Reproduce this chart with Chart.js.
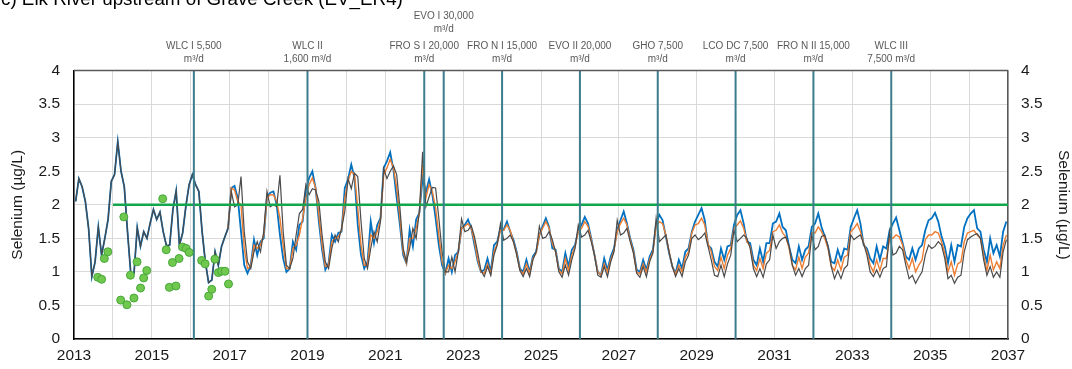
<!DOCTYPE html>
<html>
<head>
<meta charset="utf-8">
<script src="https://cdn.jsdelivr.net/npm/chart.js@4.4.1/dist/chart.umd.min.js"></script>
<style>
  html, body { margin: 0; padding: 0; background: #ffffff; overflow: hidden; }
  canvas { display: block; }
</style>
</head>
<body>
<canvas id="chart" width="1072" height="369"></canvas>
<script>
// ---- Monthly modelled selenium (µg/L), Elk River upstream of Grave Creek ----
// 2013–2016: calibration period, common to every projection
const calibration2013to2016 = [
  2.05, 2.39, 2.27, 2.05, 1.65, 0.93, 1.15, 1.67, 1.25, 1.50, 1.78, 2.35,
  2.45, 2.94, 2.50, 2.27, 1.60, 0.98, 0.98, 1.66, 1.38, 1.60, 1.50, 1.73,
  1.93, 1.78, 1.89, 1.60, 1.39, 1.40, 1.93, 2.21, 1.40, 1.58, 1.98, 2.30,
  2.45, 2.30, 2.20, 1.60, 1.15, 0.84, 0.88, 1.30, 1.10, 1.38, 1.52, 1.65
];

// 2017–2036 projections
const upperProjection = [
  2.25, 2.28, 2.10, 1.60, 1.10, 0.98, 1.10, 1.48, 1.25, 1.45, 1.50, 2.12,
  2.18, 2.20, 2.00, 1.55, 1.20, 1.00, 1.05, 1.45, 1.33, 1.70, 1.75, 2.22,
  2.40, 2.50, 2.25, 1.75, 1.33, 1.03, 1.13, 1.55, 1.45, 1.58, 1.60, 2.25,
  2.38, 2.60, 2.40, 1.70, 1.25, 1.05, 1.15, 1.75, 1.43, 1.70, 1.80, 2.55,
  2.65, 2.78, 2.52, 2.10, 1.70, 1.25, 1.13, 1.63, 1.38, 1.78, 1.88, 2.40,
  2.18, 2.38, 2.15, 1.80, 1.40, 1.10, 0.98, 1.20, 1.00, 1.25, 1.30, 1.65,
  1.70, 1.78, 1.65, 1.40, 1.15, 1.00, 1.03, 1.20, 1.00, 1.40, 1.45, 1.65,
  1.63, 1.75, 1.60, 1.48, 1.30, 1.05, 1.00, 1.18, 1.00, 1.23, 1.30, 1.55,
  1.68, 1.80, 1.67, 1.35, 1.33, 1.05, 1.00, 1.28, 1.08, 1.33, 1.40, 1.62,
  1.70, 1.82, 1.72, 1.50, 1.25, 1.00, 0.95, 1.20, 1.03, 1.23, 1.35, 1.62,
  1.77, 1.90, 1.72, 1.50, 1.33, 1.03, 1.00, 1.18, 1.03, 1.23, 1.33, 1.72,
  1.85, 1.77, 1.53, 1.28, 1.08, 0.98, 1.18, 1.05, 1.30, 1.35, 1.60, 1.75,
  1.85, 1.95, 1.77, 1.40, 1.35, 1.15, 1.08, 1.35, 1.18, 1.38, 1.40, 1.70,
  1.85, 1.92, 1.72, 1.45, 1.43, 1.18, 1.10, 1.35, 1.15, 1.43, 1.43, 1.72,
  1.75, 1.87, 1.67, 1.62, 1.38, 1.18, 1.13, 1.38, 1.18, 1.33, 1.38, 1.67,
  1.72, 1.87, 1.67, 1.53, 1.38, 1.15, 1.13, 1.33, 1.18, 1.35, 1.33, 1.67,
  1.80, 1.92, 1.72, 1.40, 1.35, 1.20, 1.13, 1.38, 1.18, 1.38, 1.35, 1.62,
  1.72, 1.81, 1.62, 1.43, 1.23, 1.18, 1.35, 1.18, 1.35, 1.40, 1.62, 1.77,
  1.80, 1.88, 1.75, 1.53, 1.38, 1.13, 1.40, 1.15, 1.40, 1.38, 1.67, 1.80,
  1.87, 1.92, 1.65, 1.60, 1.33, 1.15, 1.50, 1.28, 1.40, 1.23, 1.60, 1.75
];

const centralProjection = [
  2.25, 2.22, 2.05, 2.00, 1.35, 1.05, 1.08, 1.40, 1.35, 1.40, 1.55, 2.10,
  2.15, 2.15, 2.05, 1.80, 1.40, 1.05, 1.05, 1.35, 1.40, 1.55, 1.80, 2.10,
  2.30, 2.40, 2.25, 1.85, 1.40, 1.08, 1.10, 1.45, 1.50, 1.52, 1.62, 2.10,
  2.35, 2.50, 2.45, 1.95, 1.40, 1.10, 1.10, 1.55, 1.50, 1.60, 1.78, 2.45,
  2.55, 2.68, 2.55, 2.25, 1.80, 1.30, 1.13, 1.50, 1.50, 1.65, 1.88, 2.60,
  2.10, 2.30, 2.20, 1.95, 1.55, 1.15, 0.98, 1.10, 1.05, 1.15, 1.30, 1.65,
  1.68, 1.72, 1.65, 1.45, 1.18, 1.00, 0.98, 1.12, 0.97, 1.30, 1.42, 1.62,
  1.62, 1.70, 1.62, 1.45, 1.28, 1.03, 0.97, 1.12, 0.98, 1.20, 1.28, 1.55,
  1.65, 1.75, 1.65, 1.42, 1.30, 1.03, 0.97, 1.20, 1.02, 1.25, 1.38, 1.60,
  1.65, 1.75, 1.68, 1.48, 1.25, 1.00, 0.95, 1.12, 1.00, 1.18, 1.32, 1.60,
  1.72, 1.80, 1.70, 1.48, 1.30, 1.00, 0.97, 1.12, 1.00, 1.18, 1.30, 1.68,
  1.75, 1.72, 1.55, 1.30, 1.08, 0.97, 1.10, 1.00, 1.22, 1.30, 1.58, 1.70,
  1.72, 1.80, 1.70, 1.42, 1.30, 1.08, 1.02, 1.22, 1.05, 1.25, 1.35, 1.65,
  1.70, 1.76, 1.65, 1.45, 1.38, 1.10, 1.02, 1.20, 1.05, 1.28, 1.32, 1.60,
  1.62, 1.70, 1.58, 1.52, 1.35, 1.10, 1.03, 1.22, 1.05, 1.22, 1.28, 1.58,
  1.58, 1.67, 1.60, 1.50, 1.35, 1.08, 1.02, 1.18, 1.03, 1.22, 1.25, 1.60,
  1.65, 1.72, 1.60, 1.42, 1.30, 1.10, 1.00, 1.18, 1.02, 1.20, 1.20, 1.50,
  1.50, 1.55, 1.52, 1.40, 1.18, 1.05, 1.20, 1.00, 1.10, 1.18, 1.48, 1.55,
  1.55, 1.60, 1.58, 1.45, 1.28, 1.00, 1.15, 0.95, 1.12, 1.15, 1.45, 1.58,
  1.60, 1.62, 1.55, 1.50, 1.25, 1.02, 1.25, 1.03, 1.15, 1.05, 1.40, 1.55
];

const lowerProjection = [
  2.20, 1.97, 2.00, 2.42, 1.60, 1.15, 1.05, 1.30, 1.45, 1.30, 1.60, 2.20,
  1.97, 2.00, 1.97, 2.44, 1.60, 1.10, 1.05, 1.20, 1.55, 1.87, 1.93, 2.30,
  2.15, 2.24, 2.22, 2.05, 1.55, 1.15, 1.05, 1.35, 1.55, 1.45, 1.65, 1.90,
  2.39, 2.24, 2.47, 2.42, 1.75, 1.20, 1.05, 1.35, 1.60, 1.45, 1.75, 2.54,
  2.39, 2.50, 2.58, 2.45, 1.95, 1.35, 1.15, 1.35, 1.65, 1.50, 1.90, 2.79,
  1.97, 2.12, 2.26, 2.25, 1.80, 1.30, 1.00, 1.00, 1.22, 1.00, 1.30, 1.79,
  1.60, 1.62, 1.69, 1.52, 1.28, 1.02, 0.93, 1.08, 0.95, 1.25, 1.40, 1.72,
  1.47, 1.50, 1.55, 1.45, 1.25, 1.02, 0.93, 1.05, 0.93, 1.18, 1.30, 1.68,
  1.50, 1.52, 1.60, 1.48, 1.30, 1.00, 0.92, 1.10, 0.95, 1.18, 1.35, 1.70,
  1.52, 1.55, 1.62, 1.45, 1.25, 0.95, 0.92, 1.08, 0.93, 1.15, 1.30, 1.77,
  1.55, 1.58, 1.65, 1.45, 1.28, 0.98, 0.92, 1.08, 0.93, 1.15, 1.28, 1.80,
  1.45, 1.50, 1.55, 1.30, 1.08, 0.93, 1.05, 0.93, 1.15, 1.25, 1.50, 1.55,
  1.48, 1.52, 1.58, 1.38, 1.18, 0.95, 0.93, 1.10, 0.93, 1.12, 1.25, 1.62,
  1.45, 1.50, 1.55, 1.50, 1.35, 1.05, 0.93, 1.05, 0.92, 1.12, 1.18, 1.55,
  1.35, 1.45, 1.50, 1.52, 1.38, 1.10, 0.95, 1.05, 0.93, 1.05, 1.10, 1.55,
  1.33, 1.38, 1.53, 1.55, 1.38, 1.08, 0.90, 1.02, 0.90, 1.05, 1.10, 1.55,
  1.48, 1.52, 1.55, 1.42, 1.25, 1.00, 0.93, 1.03, 0.92, 1.05, 1.08, 1.60,
  1.25, 1.28, 1.38, 1.33, 1.10, 0.90, 0.95, 0.83, 0.92, 1.00, 1.25, 1.40,
  1.35, 1.38, 1.45, 1.40, 1.20, 0.90, 0.95, 0.83, 0.92, 0.95, 1.30, 1.48,
  1.52, 1.55, 1.57, 1.50, 1.18, 0.95, 1.08, 0.92, 1.00, 0.92, 1.30, 1.48
];

// Measured selenium (µg/L) and sampling dates (decimal years)
const sampleDates = [
  2013.61, 2013.71, 2013.78, 2013.87, 2014.20, 2014.28, 2014.36, 2014.45,
  2014.54, 2014.62, 2014.71, 2014.79, 2014.87, 2015.28, 2015.37, 2015.45,
  2015.53, 2015.62, 2015.70, 2015.79, 2015.88, 2015.96, 2016.28, 2016.37,
  2016.46, 2016.54, 2016.62, 2016.71, 2016.79, 2016.88, 2016.97
];
const sampleSelenium = [
  0.92, 0.89, 1.20, 1.30, 0.58, 1.82, 0.51, 0.95,
  0.61, 1.15, 0.76, 0.91, 1.02, 2.09, 1.33, 0.77,
  1.14, 0.79, 1.20, 1.37, 1.35, 1.29, 1.17, 1.12,
  0.64, 0.74, 1.19, 0.99, 1.01, 1.01, 0.82
];

// Site performance objective
const objectiveStart = 2014;
const objectiveEnd = 2037;
const objectiveValue = 2;

// Water treatment commissioning dates and capacities
const facilityDates = [2016.08, 2019.0, 2022.0, 2022.5, 2024.0, 2026.0, 2028.0, 2030.0, 2032.0, 2034.0];
const facilityNames = ['WLC I 5,500', 'WLC II', 'FRO S I 20,000', 'EVO I 30,000', 'FRO N I 15,000',
                       'EVO II 20,000', 'GHO 7,500', 'LCO DC 7,500', 'FRO N II 15,000', 'WLC III'];
const facilityRates = ['m³/d', '1,600 m³/d', 'm³/d', 'm³/d', 'm³/d',
                       'm³/d', 'm³/d', 'm³/d', 'm³/d', '7,500 m³/d'];

// Axis settings
const yMin = 0, yMax = 4, yStep = 0.5;
const xMin = 2013, xMax = 2037, xLabelEvery = 2;
const axisTitle = 'Selenium (µg/L)';
const chartTitle = 'c) Elk River upstream of Grave Creek (EV_ER4)';

// ---- Build the point lists ----
const startYear = 2013;
function monthlyPoints(values, firstMonth) {
  return values.map((v, k) => ({ x: startYear + (firstMonth + k + 0.5) / 12, y: v }));
}
const nCal = calibration2013to2016.length;
const upperPts = monthlyPoints(calibration2013to2016.concat(upperProjection), 0);
const lowerPts = monthlyPoints(calibration2013to2016.concat(lowerProjection), 0);
const centralPts = monthlyPoints([calibration2013to2016[nCal - 1]].concat(centralProjection), nCal - 1);
const samplePts = sampleDates.map((d, k) => ({ x: d, y: sampleSelenium[k] }));

const FONT = "'Liberation Sans', Arial, sans-serif";
const TEXT = '#1a1a1a';
Chart.defaults.font.family = FONT;
Chart.defaults.color = TEXT;

const facilityLines = facilityDates.map(d => ({
  type: 'line',
  data: [{ x: d, y: yMin }, { x: d, y: yMax }],
  borderColor: '#3d7c8c',
  borderWidth: 2,
  pointRadius: 0,
  order: 1
}));

// Plot frame, facility captions and panel title
const decorations = {
  id: 'decorations',
  afterDraw(chart) {
    const { ctx, chartArea: a, scales: { x } } = chart;
    ctx.save();
    ctx.strokeStyle = '#595959';
    ctx.lineWidth = 1.5;
    ctx.beginPath();
    ctx.moveTo(a.left, a.top);
    ctx.lineTo(a.right, a.top);
    ctx.stroke();

    ctx.font = '10px ' + FONT;
    ctx.fillStyle = '#595959';
    ctx.textAlign = 'center';
    ctx.textBaseline = 'middle';
    let prevPx = -Infinity;
    facilityDates.forEach((d, k) => {
      const px = x.getPixelForValue(d);
      const raised = px - prevPx < 40;
      const y1 = raised ? 16 : 46;
      ctx.fillText(facilityNames[k], px, y1);
      ctx.fillText(facilityRates[k], px, y1 + 13);
      prevPx = px;
    });

    ctx.font = '18.8px ' + FONT;
    ctx.fillStyle = '#000000';
    ctx.textAlign = 'left';
    ctx.textBaseline = 'alphabetic';
    ctx.fillText(chartTitle, 1, 5);
    ctx.restore();
  }
};

const tickFont = { size: 15.5 };
const fmt = v => String(v);

new Chart(document.getElementById('chart'), {
  type: 'line',
  data: {
    datasets: [
      {
        type: 'scatter',
        data: samplePts,
        pointRadius: 4,
        pointBackgroundColor: '#70c84e',
        pointBorderColor: '#47a83a',
        pointBorderWidth: 1,
        order: 0
      },
      ...facilityLines,
      {
        data: [{ x: objectiveStart, y: objectiveValue }, { x: objectiveEnd, y: objectiveValue }],
        borderColor: '#14a64c',
        borderWidth: 2.5,
        pointRadius: 0,
        order: 2
      },
      { data: lowerPts, borderColor: '#4a4a4a', borderWidth: 1.2, pointRadius: 0, order: 3 },
      { data: centralPts, borderColor: '#ed7d31', borderWidth: 1.4, pointRadius: 0, order: 4 },
      { data: upperPts, borderColor: '#0070c0', borderWidth: 1.8, pointRadius: 0, order: 5 }
    ]
  },
  options: {
    responsive: false,
    animation: false,
    events: [],
    layout: { padding: { top: 70.6, left: 0, right: 0, bottom: 0 } },
    plugins: { legend: { display: false }, tooltip: { enabled: false }, title: { display: false } },
    elements: { line: { tension: 0 } },
    scales: {
      x: {
        type: 'linear',
        min: xMin,
        max: xMax,
        ticks: {
          stepSize: 1,
          autoSkip: false,
          maxRotation: 0,
          padding: 7,
          font: tickFont,
          color: TEXT,
          callback: v => ((v - xMin) % xLabelEvery === 0 ? String(v) : '')
        },
        grid: { color: '#d9d9d9', lineWidth: 1, drawTicks: false },
        border: { color: '#000000', width: 1.5 },
        afterFit: s => { s.height = 30; }
      },
      y: {
        position: 'left',
        min: yMin,
        max: yMax,
        ticks: { stepSize: yStep, padding: 14, font: tickFont, color: TEXT, callback: fmt },
        grid: { color: '#d9d9d9', lineWidth: 1, drawTicks: false },
        border: { color: '#000000', width: 1.5 },
        title: { display: true, text: axisTitle, font: { size: 15.5, lineHeight: 1 }, color: TEXT, padding: { top: 10, bottom: 0 } },
        afterFit: s => { s.width = 74; }
      },
      y2: {
        position: 'right',
        min: yMin,
        max: yMax,
        ticks: { stepSize: yStep, padding: 13, font: tickFont, color: TEXT, callback: fmt },
        grid: { display: false, drawTicks: false },
        border: { color: '#595959', width: 1.5 },
        title: { display: true, text: axisTitle, font: { size: 15.5, lineHeight: 1 }, color: TEXT, padding: { top: 1, bottom: 0 } },
        afterFit: s => { s.width = 64; }
      }
    }
  },
  plugins: [decorations]
});
</script>
</body>
</html>
